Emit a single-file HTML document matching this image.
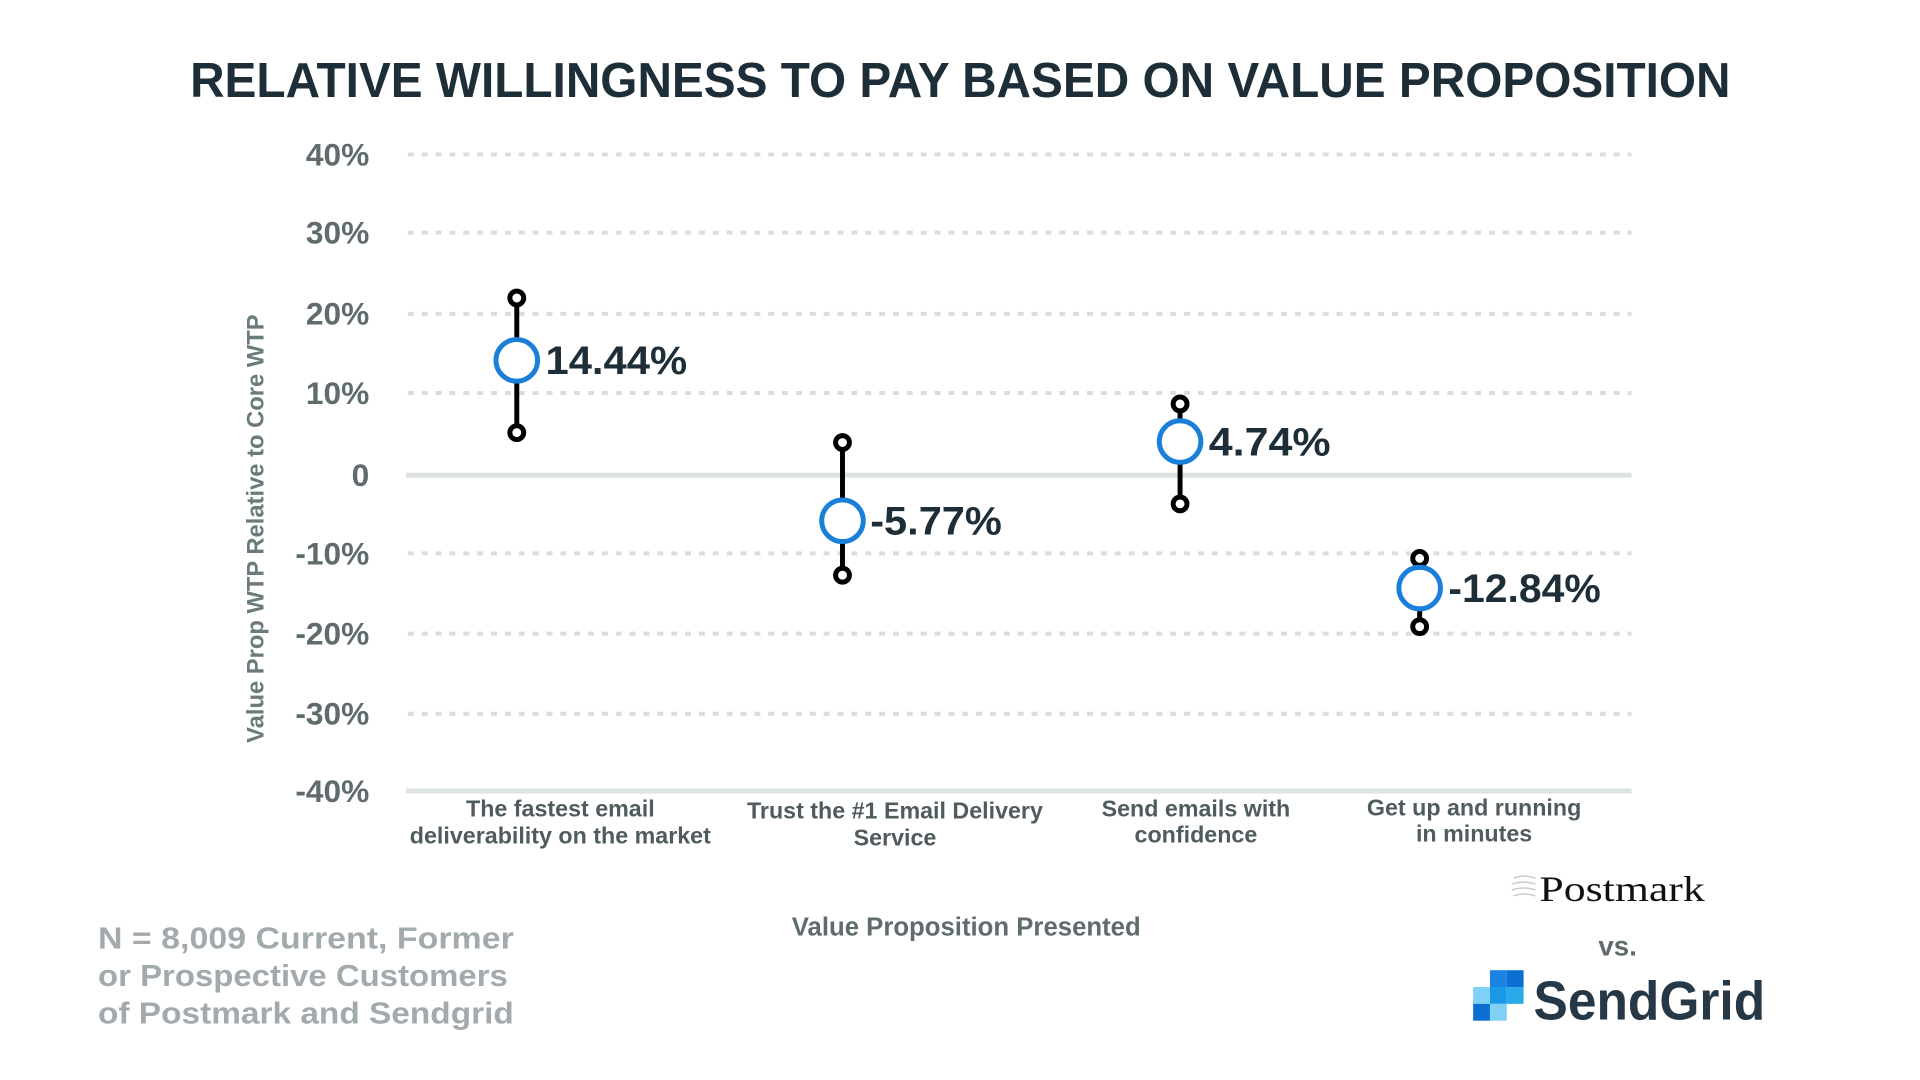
<!DOCTYPE html>
<html><head><meta charset="utf-8"><style>
html,body{margin:0;padding:0;background:#fff;}
svg{display:block;}
text{font-family:"Liberation Sans",sans-serif;}
</style></head><body>
<svg width="1920" height="1080" viewBox="0 0 1920 1080" xmlns="http://www.w3.org/2000/svg">
<g transform="scale(0.99)">
<text x="970" y="98" text-anchor="middle" font-size="50" font-weight="bold" fill="#1d2e38" textLength="1556" lengthAdjust="spacingAndGlyphs">RELATIVE WILLINGNESS TO PAY BASED ON VALUE PROPOSITION</text>
<g stroke="#dcdcdc" stroke-width="4" stroke-dasharray="6 8">
<line x1="412" x2="1648" y1="156" y2="156"/>
<line x1="412" x2="1648" y1="235" y2="235"/>
<line x1="412" x2="1648" y1="317" y2="317"/>
<line x1="412" x2="1648" y1="397" y2="397"/>
<line x1="412" x2="1648" y1="559" y2="559"/>
<line x1="412" x2="1648" y1="640" y2="640"/>
<line x1="412" x2="1648" y1="721" y2="721"/>
</g>
<line x1="410" x2="1648" y1="480" y2="480" stroke="#dde3e3" stroke-width="5"/>
<line x1="410" x2="1648" y1="799" y2="799" stroke="#dde3e3" stroke-width="5"/>
<g font-size="32" font-weight="bold" fill="#5f6b6d" text-anchor="end">
<text x="373" y="167">40%</text>
<text x="373" y="246">30%</text>
<text x="373" y="328">20%</text>
<text x="373" y="408">10%</text>
<text x="373" y="491">0</text>
<text x="373" y="570">-10%</text>
<text x="373" y="651">-20%</text>
<text x="373" y="732">-30%</text>
<text x="373" y="810">-40%</text>
</g>
<text transform="translate(266,534) rotate(-90)" text-anchor="middle" font-size="24" font-weight="bold" fill="#6b7b7d">Value Prop WTP Relative to Core WTP</text>
<g stroke="#000" stroke-width="5" fill="#fff">
<line x1="522" x2="522" y1="301" y2="437"/>
<circle cx="522" cy="301" r="7"/><circle cx="522" cy="437" r="7"/>
<line x1="851" x2="851" y1="447" y2="581"/>
<circle cx="851" cy="447" r="7"/><circle cx="851" cy="581" r="7"/>
<line x1="1192" x2="1192" y1="408" y2="509"/>
<circle cx="1192" cy="408" r="7"/><circle cx="1192" cy="509" r="7"/>
<line x1="1434" x2="1434" y1="564" y2="633"/>
<circle cx="1434" cy="564" r="7"/><circle cx="1434" cy="633" r="7"/>
</g>
<g stroke="#1a7fd9" stroke-width="5" fill="#fff">
<circle cx="522" cy="364" r="21"/>
<circle cx="851" cy="526" r="21"/>
<circle cx="1192" cy="446" r="21"/>
<circle cx="1434" cy="594" r="21"/>
</g>
<g font-size="40" font-weight="bold" fill="#1d2e38">
<text x="551" y="378" textLength="143" lengthAdjust="spacingAndGlyphs">14.44%</text>
<text x="879" y="540" textLength="133" lengthAdjust="spacingAndGlyphs">-5.77%</text>
<text x="1221" y="460" textLength="123" lengthAdjust="spacingAndGlyphs">4.74%</text>
<text x="1463" y="608" textLength="154" lengthAdjust="spacingAndGlyphs">-12.84%</text>
</g>
<g font-size="23.5" font-weight="bold" fill="#4f5b5e" text-anchor="middle">
<text x="566" y="825">The fastest email</text>
<text x="566" y="852">deliverability on the market</text>
<text x="904" y="827">Trust the #1 Email Delivery</text>
<text x="904" y="854">Service</text>
<text x="1208" y="825">Send emails with</text>
<text x="1208" y="851">confidence</text>
<text x="1489" y="824">Get up and running</text>
<text x="1489" y="850">in minutes</text>
</g>
<text x="976" y="945" text-anchor="middle" font-size="26" font-weight="bold" fill="#5f6b6d">Value Proposition Presented</text>
<g font-size="31" font-weight="bold" fill="#a3aaad">
<text x="99" y="958" textLength="420" lengthAdjust="spacingAndGlyphs">N = 8,009 Current, Former</text>
<text x="99" y="996" textLength="414" lengthAdjust="spacingAndGlyphs">or Prospective Customers</text>
<text x="99" y="1034" textLength="420" lengthAdjust="spacingAndGlyphs">of Postmark and Sendgrid</text>
</g>
<g stroke="#ccc" stroke-width="1.5" fill="none">
<path d="M1529 887 q10 -4 22 0"/><path d="M1527 893 q12 -4 24 0"/><path d="M1527 899 q12 -4 24 0"/><path d="M1529 905 q10 -4 22 0"/>
</g>
<text x="1555" y="910" font-size="36" fill="#111" textLength="167" lengthAdjust="spacingAndGlyphs" style="font-family:'Liberation Serif',serif">Postmark</text>
<text x="1634" y="965" text-anchor="middle" font-size="28" font-weight="bold" fill="#5f6b6d">vs.</text>
<g>
<rect x="1505" y="980" width="17" height="17" fill="#1a82e2"/>
<rect x="1522" y="980" width="17" height="17" fill="#0a6fd0"/>
<rect x="1488" y="997" width="17" height="17" fill="#7fd0f5"/>
<rect x="1505" y="997" width="17" height="17" fill="#1a98e8"/>
<rect x="1522" y="997" width="17" height="17" fill="#2aaae8"/>
<rect x="1488" y="1014" width="17" height="17" fill="#0a6fd0"/>
<rect x="1505" y="1014" width="17" height="17" fill="#7fd0f5"/>
</g>
<text x="1549" y="1030" font-size="55" font-weight="bold" fill="#263746" textLength="234" lengthAdjust="spacingAndGlyphs">SendGrid</text>
</g>
</svg>
</body></html>
